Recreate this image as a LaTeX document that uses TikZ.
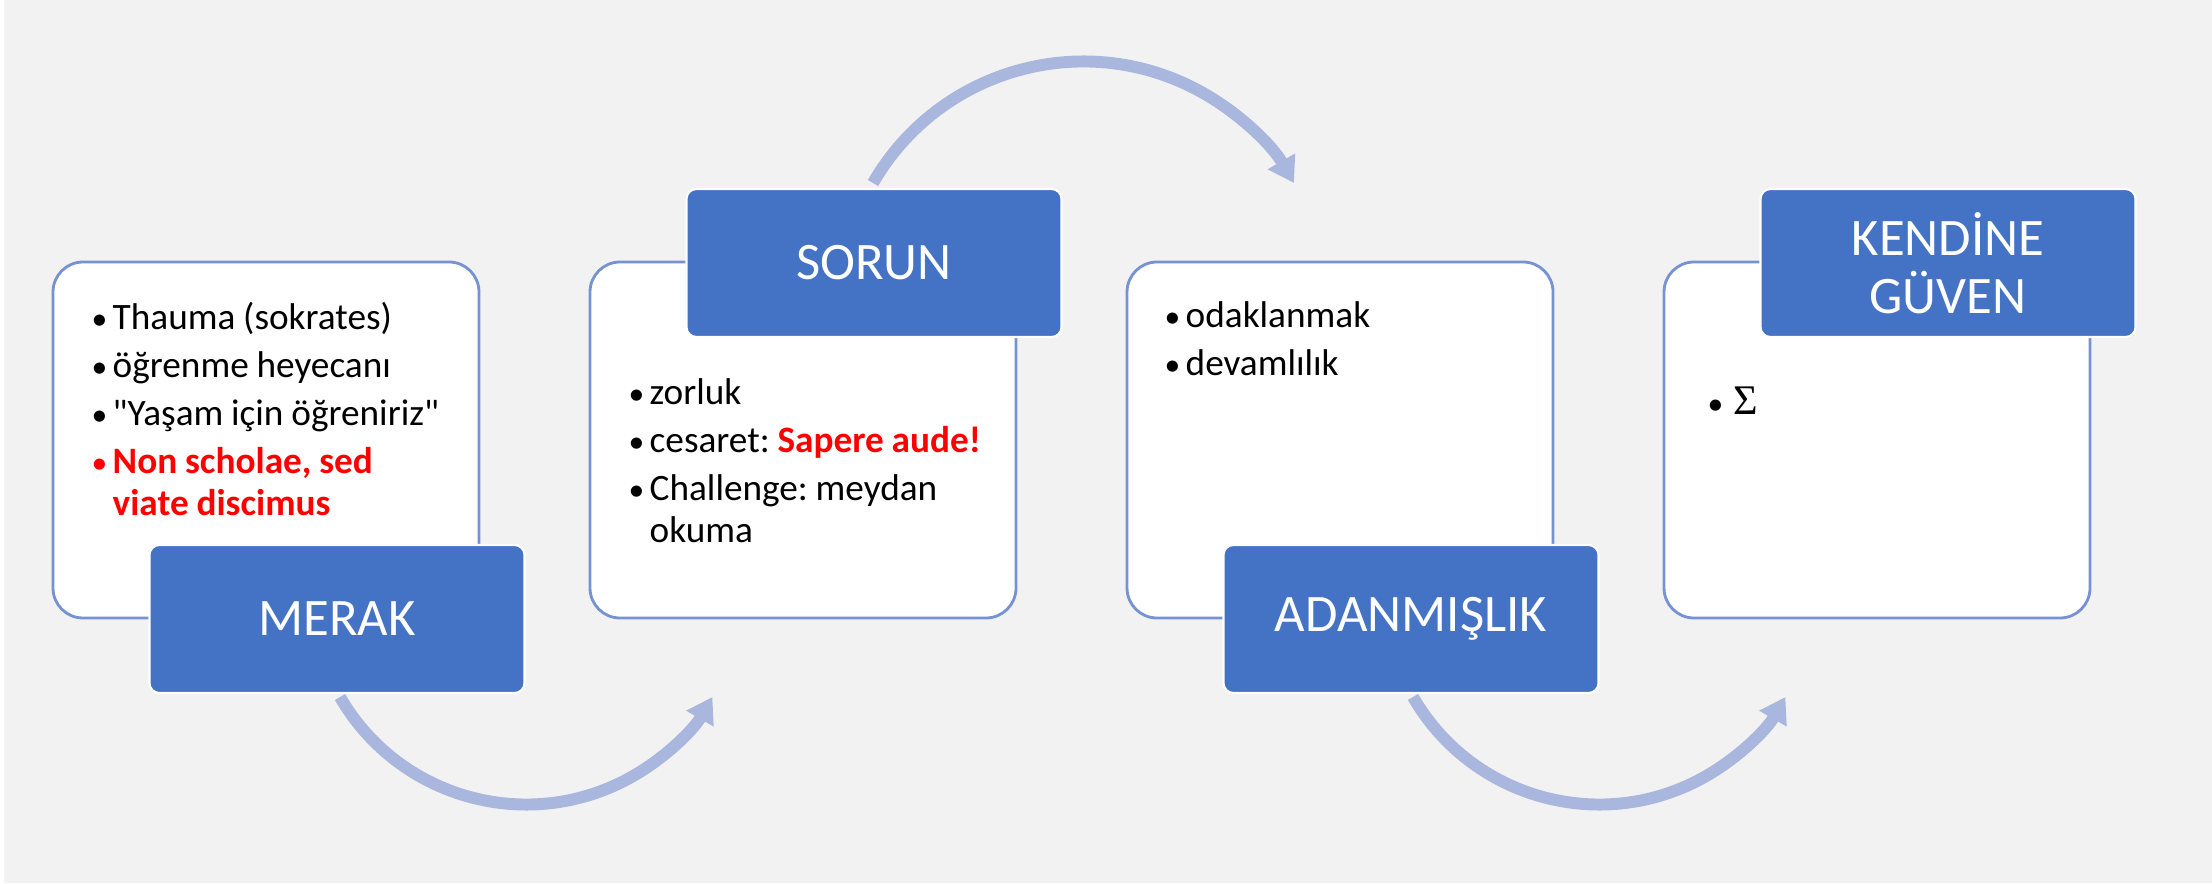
\documentclass[tikz,border=0pt]{standalone}
\usepackage{fontspec}
\setmainfont{Carlito}[Ligatures=TeXOff]
\newfontfamily\sigmafont{Liberation Serif}
\usetikzlibrary{arrows.meta}
\definecolor{sl_blue}{RGB}{68, 114, 196}
\definecolor{sl_edge}{RGB}{118, 146, 210}
\definecolor{sl_arrow}{RGB}{169, 183, 222}
\definecolor{sl_back}{RGB}{242, 242, 242}
\tikzstyle{card}=[rectangle,rounded corners=0.3cm,fill=white,draw=sl_edge,
  line width=0.8pt,minimum width=4.26cm,minimum height=3.56cm]
\tikzstyle{head}=[rectangle,rounded corners=0.1cm,fill=sl_blue,draw=white,
  line width=0.6pt,minimum width=3.75cm,minimum height=1.48cm,text=white,
  align=center,font=\fontsize{15}{16.5}\selectfont]
\tikzstyle{lst}=[anchor=base west,inner sep=0pt,text width=4cm,align=left,
  font=\fontsize{10.6}{12}\selectfont\frenchspacing]
\tikzstyle{flow}=[draw=sl_arrow,line width=3.4pt,
  -{Triangle[width=0.3cm,length=0.25cm]}]
\newcommand{\litem}[2][black]{\parskip=1.6pt\spaceskip=0.21em\relax
  \hangindent=0.21cm\hangafter=1
  \noindent{\color{#1}\makebox[0.21cm][l]{\fontsize{9}{9}\selectfont•}#2}\par}

\begin{document}
\begin{tikzpicture}
    \fill[sl_back] (0,0) rectangle (22.12,8.83);
    \fill[white] (0,0) rectangle (0.04,8.83);
    \useasboundingbox (0,0) rectangle (22.12,8.83);
    % arrows first, boxes on top
    \coordinate (a1) at (3.40,1.86);
    \coordinate (a2) at (8.73,7.00);
    \coordinate (a3) at (14.13,1.86);
    \draw[flow] (a1) arc[start angle=210,end angle=330,radius=2.15];
    \draw[flow] (a2) arc[start angle=150,end angle=30,radius=2.43];
    \draw[flow] (a3) arc[start angle=210,end angle=330,radius=2.15];
    \node[card] (w1) at (2.66, 4.43) {};
    \node[card] (w2) at (8.03, 4.43) {};
    \node[card] (w3) at (13.40, 4.43) {};
    \node[card] (w4) at (18.77, 4.43) {};
    \node[head] (b1) at (3.37, 2.64) {MERAK};
    \node[head] (b2) at (8.74, 6.20) {SORUN};
    \node[head] (b3) at (14.11, 2.64) {ADANMIŞLIK};
    \node[head] (b4) at (19.48, 6.20) {KENDİNE\\GÜVEN};
    \node[lst] (l1) at (0.91, 5.53) {\litem{Thauma (sokrates)}%
      \litem{öğrenme heyecanı}\litem{"Yaşam için öğreniriz"}%
      \litem[red]{\bfseries Non scholae, sed\newline viate discimus}};
    \node[lst] (l2) at (6.28, 4.78) {\litem{zorluk}%
      \litem{cesaret: {\color{red}\bfseries Sapere aude!}}%
      \litem{Challenge: meydan\newline okuma}};
    \node[lst] (l3) at (11.64, 5.55) {\litem{odaklanmak}\litem{devamlılık}};
    \node[lst] (l4) at (17.07, 4.68) {\litem{\hspace{0.05cm}{\sigmafont\fontsize{12}{12}\selectfont Σ}}};
  \end{tikzpicture}
\end{document}
